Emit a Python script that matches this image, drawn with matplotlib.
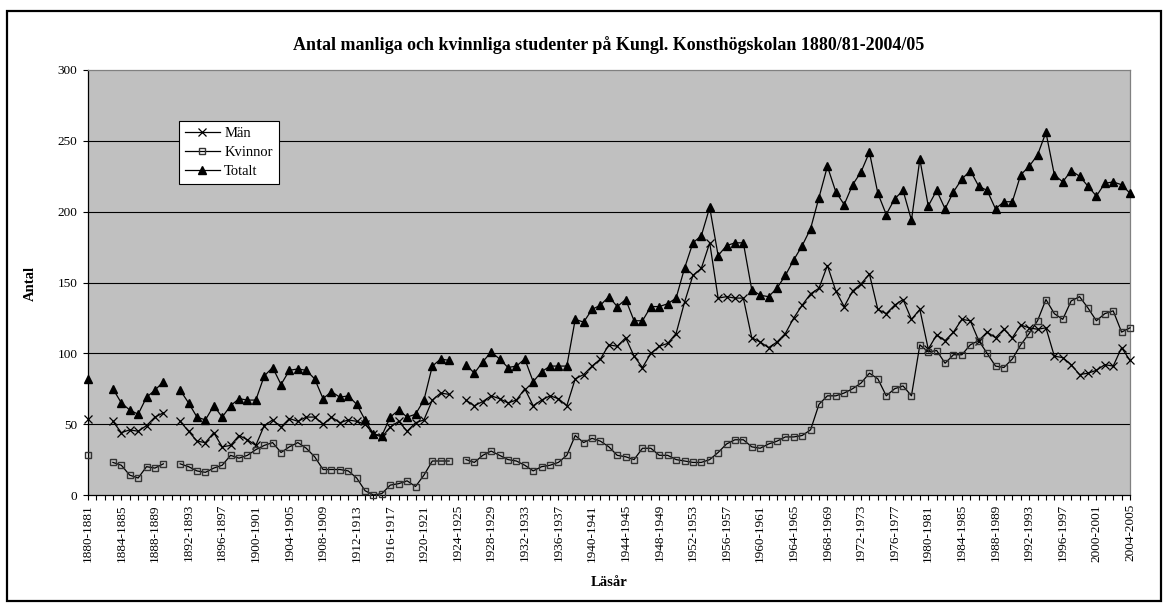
import numpy as np
import matplotlib
matplotlib.use("Agg")
import matplotlib.pyplot as plt
from matplotlib.patches import Rectangle

plt.rcParams['font.family'] = ['Liberation Serif', 'DejaVu Serif']

# läsår 1880/81 .. 2004/05, None = saknas
years = list(range(1880, 2005))

man = [54, None, None, 52, 44, 46, 45, 49, 55, 58,
       None, 52, 45, 38, 37, 44, 34, 35, 42, 39,
       35, 49, 53, 48, 54, 52, 55, 55, 50, 55,
       51, 53, 52, 50, 43, 41, 48, 52, 45, 51,
       53, 67, 72, 71, None, 67, 63, 66, 70, 68,
       65, 67, 75, 63, 67, 70, 68, 63, 82, 85,
       91, 96, 106, 105, 111, 98, 90, 100, 105, 107,
       114, 136, 155, 160, 178, 139, 140, 139, 139, 111,
       108, 104, 108, 114, 125, 134, 142, 146, 162, 144,
       133, 144, 149, 156, 131, 128, 134, 138, 124, 131,
       103, 113, 109, 115, 124, 123, 109, 115, 111, 117,
       111, 120, 118, 117, 118, 98, 97, 92, 85, 86,
       88, 92, 91, 104, 95]

kvinnor = [28, None, None, 23, 21, 14, 12, 20, 19, 22,
           None, 22, 20, 17, 16, 19, 21, 28, 26, 28,
           32, 35, 37, 30, 34, 37, 33, 27, 18, 18,
           18, 17, 12, 3, 0, 1, 7, 8, 10, 6,
           14, 24, 24, 24, None, 25, 23, 28, 31, 28,
           25, 24, 21, 17, 20, 21, 23, 28, 42, 37,
           40, 38, 34, 28, 27, 25, 33, 33, 28, 28,
           25, 24, 23, 23, 25, 30, 36, 39, 39, 34,
           33, 36, 38, 41, 41, 42, 46, 64, 70, 70,
           72, 75, 79, 86, 82, 70, 75, 77, 70, 106,
           101, 102, 93, 99, 99, 106, 109, 100, 91, 90,
           96, 106, 114, 123, 138, 128, 124, 137, 140, 132,
           123, 128, 130, 115, 118]

totalt = [82, None, None, 75, 65, 60, 57, 69, 74, 80,
          None, 74, 65, 55, 53, 63, 55, 63, 68, 67,
          67, 84, 90, 78, 88, 89, 88, 82, 68, 73,
          69, 70, 64, 53, 43, 42, 55, 60, 55, 57,
          67, 91, 96, 95, None, 92, 86, 94, 101, 96,
          90, 91, 96, 80, 87, 91, 91, 91, 124, 122,
          131, 134, 140, 133, 138, 123, 123, 133, 133, 135,
          139, 160, 178, 183, 203, 169, 176, 178, 178, 145,
          141, 140, 146, 155, 166, 176, 188, 210, 232, 214,
          205, 219, 228, 242, 213, 198, 209, 215, 194, 237,
          204, 215, 202, 214, 223, 229, 218, 215, 202, 207,
          207, 226, 232, 240, 256, 226, 221, 229, 225, 218,
          211, 220, 221, 219, 213]

y_ticks = [0, 50, 100, 150, 200, 250, 300]


def to_arr(vals):
    return np.array([np.nan if v is None else v for v in vals], dtype=float)


fig = plt.figure(figsize=(11.69, 6.10), dpi=100)
W, H = 1169, 610

# ram runt hela diagrammet
fig.patches.append(Rectangle((7 / W, 1 - 601 / H), (1161 - 7) / W, (601 - 11) / H,
                             transform=fig.transFigure, fill=False,
                             edgecolor='black', linewidth=1.6))

ax = fig.add_axes([87.7 / W, 1 - 495 / H, (1130 - 87.7) / W, 425 / H])
ax.set_facecolor('#C0C0C0')

x = np.arange(len(years))
for v in y_ticks[1:-1]:
    ax.axhline(v, color='black', linewidth=0.8, zorder=1)

ax.plot(x, to_arr(man), color='black', linewidth=0.9, marker='x',
        markersize=6, markeredgewidth=0.9, label='Män', zorder=3, clip_on=False)
ax.plot(x, to_arr(kvinnor), color='black', linewidth=0.9, marker='s',
        markersize=4.5, markerfacecolor='none', markeredgecolor='#333333',
        markeredgewidth=1.0, label='Kvinnor', zorder=3, clip_on=False)
ax.plot(x, to_arr(totalt), color='black', linewidth=0.9, marker='^',
        markersize=6, markerfacecolor='black', markeredgecolor='black',
        label='Totalt', zorder=3, clip_on=False)

ax.set_xlim(0, len(years) - 1)
ax.set_ylim(0, 300)
ax.set_yticks(y_ticks)
ax.set_yticklabels([str(v) for v in y_ticks], fontsize=9.5)

ax.set_xticks(x[::4])
ax.set_xticklabels([f"{y}-{y + 1}" for y in years[::4]], rotation=90, fontsize=9.5)
ax.set_xticks(x, minor=True)
ax.tick_params(axis='x', which='both', direction='out', length=3.5, width=0.8,
               color='black', pad=3)
ax.tick_params(axis='y', direction='out', length=3.5, width=0.8, pad=4)

for s in ['left', 'bottom']:
    ax.spines[s].set_color('black')
    ax.spines[s].set_linewidth(0.9)
for s in ['top', 'right']:
    ax.spines[s].set_color('#808080')
    ax.spines[s].set_linewidth(0.9)

fig.text(609 / W, 1 - 45 / H,
         'Antal manliga och kvinnliga studenter på Kungl. Konsthögskolan 1880/81-2004/05',
         ha='center', va='center', fontsize=13, fontweight='bold')
fig.text(30 / W, 1 - 283 / H, 'Antal', ha='center', va='center', rotation=90,
         fontsize=10.5, fontweight='bold')
fig.text(609 / W, 1 - 583 / H, 'Läsår', ha='center', va='center',
         fontsize=10.5, fontweight='bold')

leg = ax.legend(loc='upper left', bbox_to_anchor=((171.7 - 87.7) / (1130 - 87.7), 1 - (114 - 70) / 425),
                fontsize=10.5, frameon=True, fancybox=False, framealpha=1,
                edgecolor='black', borderpad=0.4, handlelength=2.4,
                handletextpad=0.3, labelspacing=0.4)
leg.get_frame().set_linewidth(0.8)

fig.savefig('out.png', dpi=100)
